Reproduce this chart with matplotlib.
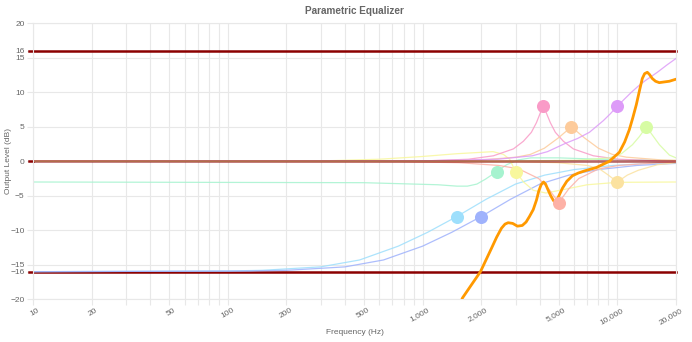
"""Parametric equalizer response chart."""

import matplotlib

matplotlib.use("Agg")
import matplotlib.pyplot as plt
from matplotlib.ticker import FixedLocator, NullFormatter
from matplotlib.transforms import ScaledTranslation

# band filters: frequency (Hz) / gain (dB) points
LIGHT_BLUE_F = [10, 100, 150, 300, 475, 750, 1060, 1500, 2120, 3000, 4240, 6000, 9500, 15000, 20000]
LIGHT_BLUE_DB = [-16, -15.9, -15.8, -15.3, -14.3, -12.3, -10.3, -8, -5.5, -3.3, -2.0, -1.2, -0.6, -0.3, -0.2]

BLUE_F = [10, 130, 200, 400, 630, 1000, 1410, 2000, 2830, 4000, 5640, 8000, 12600, 20000]
BLUE_DB = [-16, -15.9, -15.8, -15.3, -14.3, -12.3, -10.3, -8, -5.5, -3.3, -2.0, -1.2, -0.6, -0.3]

MINT_F = [10, 500, 900, 1200, 1500, 1700, 1900, 2100, 2400, 2700, 3100, 3600, 5000, 8000, 20000]
MINT_DB = [-3.0, -3.1, -3.3, -3.4, -3.6, -3.6, -3.3, -2.6, -1.5, -0.5, 0.2, 0.5, 0.5, 0.3, 0.1]

YELLOW_F = [10, 300, 600, 1000, 1500, 2000, 2300, 2600, 2800, 3000, 3300, 3700, 4300, 5500, 7000, 10000, 20000]
YELLOW_DB = [0, 0.05, 0.3, 0.7, 1.1, 1.3, 1.4, 1.0, 0.3, -1.5, -3.0, -4.2, -4.6, -4.0, -3.4, -3.05, -3.0]

PINK_F = [10, 1012, 1719, 2312, 2927, 3291, 3619, 3842, 4020, 4170, 4320, 4528, 4804, 5284, 5940,
          7525, 10110, 17190, 20000]
PINK_DB = [0, 0.05, 0.3, 0.8, 1.8, 2.9, 4.2, 5.6, 7.0, 8.0, 7.0, 5.6, 4.2, 2.9, 1.8,
           0.8, 0.3, 0.05, 0.05]

PEACH_F = [10, 988, 2007, 3033, 3579, 4222, 4982, 5808, 6770, 7990, 9425, 11120, 16810, 20000]
PEACH_DB = [0, 0.02, 0.2, 0.6, 1.0, 1.9, 3.4, 5.0, 3.4, 1.9, 1.0, 0.6, 0.2, 0.15]

SALMON_F = [10, 757, 1535, 2462, 3118, 3945, 4443, 5000, 5626, 6336, 8020, 10150, 16290, 20000]
SALMON_DB = [0, -0.05, -0.2, -0.6, -1.1, -2.5, -4.0, -6.0, -4.0, -2.5, -1.1, -0.6, -0.2, -0.15]

PURPLE_F = [10, 943, 2427, 3662, 4380, 5412, 6240, 7186, 8478, 9210, 10000, 10860, 11800, 12810,
            13920, 16040, 18040, 20000]
PURPLE_DB = [0, 0.05, 0.3, 0.8, 1.4, 2.6, 3.3, 4.2, 5.9, 6.9, 8.0, 9.0, 10.0, 10.9,
             11.7, 12.9, 14.0, 14.9]

LIGHT_ORANGE_F = [10, 3070, 4925, 7020, 8090, 8890, 10000, 11250, 12810, 16040, 20000]
LIGHT_ORANGE_DB = [0, -0.05, -0.2, -0.6, -1.1, -1.9, -3.0, -2.0, -1.3, -0.5, -0.2]

LIME_F = [10, 2400, 6180, 9110, 10490, 11950, 12990, 14100, 15310, 16440, 18500, 20000]
LIME_DB = [0, 0.02, 0.15, 0.5, 1.1, 2.4, 3.6, 5.0, 3.6, 2.4, 0.9, 0.5]

# combined response
TOTAL_F = [1560, 1603, 1782, 1982, 2259, 2400, 2541, 2650, 2750, 2900, 3069, 3250, 3400, 3538,
           3700, 3846, 3950, 4060, 4178, 4280, 4400, 4550, 4700, 4808, 4900, 5050, 5224, 5500,
           5877, 6300, 6771, 7805, 9095, 10233, 10900, 11525, 12000, 12510, 13000, 13430, 13800,
           14250, 14600, 15110, 15700, 16410, 17400, 18480, 20000]
TOTAL_DB = [-20.6, -19.8, -17.9, -16.0, -12.6, -11.0, -9.7, -9.1, -8.9, -9.0, -9.4, -9.3, -8.8, -8.0,
            -7.0, -5.6, -4.3, -3.4, -3.0, -3.3, -4.1, -5.0, -5.7, -5.9, -5.6, -4.8, -3.9, -2.9,
            -2.1, -1.7, -1.4, -0.9, 0.0, 1.3, 2.8, 4.6, 6.3, 8.2, 10.3, 12.0, 12.7,
            12.9, 12.6, 12.0, 11.6, 11.4, 11.5, 11.6, 11.9]

# band handles (center frequency, gain)
HANDLE_F = [1500, 2000, 2400, 3000, 4170, 5808, 5000, 10000, 10000, 14100]
HANDLE_DB = [-8, -8, -1.5, -1.5, 8, 5, -6, 8, -3, 5]

BANDS = [
    (LIGHT_BLUE_F, LIGHT_BLUE_DB, "#9edffc"),
    (BLUE_F, BLUE_DB, "#9fb2fc"),
    (MINT_F, MINT_DB, "#a6f3cf"),
    (YELLOW_F, YELLOW_DB, "#f8f79c"),
    (PINK_F, PINK_DB, "#f99bc7"),
    (PEACH_F, PEACH_DB, "#fdcb9b"),
    (SALMON_F, SALMON_DB, "#fdb1a6"),
    (PURPLE_F, PURPLE_DB, "#dd9bf8"),
    (LIGHT_ORANGE_F, LIGHT_ORANGE_DB, "#fbe2a0"),
    (LIME_F, LIME_DB, "#d7fca4"),
]

X_MAJOR = [10, 20, 50, 100, 200, 500, 1000, 2000, 5000, 10000, 20000]
X_MINOR = [30, 40, 60, 70, 80, 90, 300, 400, 600, 700, 800, 900,
           3000, 4000, 6000, 7000, 8000, 9000]
Y_TICKS = [-20, -16, -15, -10, -5, 0, 5, 10, 15, 16, 20]
LIMIT_LEVELS = [-16, 16]

GRID = "#e8e8e8"
LIMIT = "#8b0000"
TEXT = "#666666"

plt.rcParams["font.family"] = ["Liberation Sans", "DejaVu Sans"]

fig = plt.figure(figsize=(6.92, 3.42), dpi=100)
ax = fig.add_axes([33 / 692, 1 - 299.3 / 342, 643 / 692, 276 / 342])

ax.set_xscale("log")
ax.set_xlim(10, 20000)
ax.set_ylim(-20, 20)

ax.xaxis.set_major_locator(FixedLocator(X_MAJOR))
ax.xaxis.set_minor_locator(FixedLocator(X_MINOR))
ax.xaxis.set_minor_formatter(NullFormatter())
ax.set_xticks(X_MAJOR, [f"{v:,}" for v in X_MAJOR])
ax.set_yticks(Y_TICKS)

ax.grid(True, which="both", color=GRID, linewidth=0.8)
ax.tick_params(axis="both", which="both", length=4, width=0.8, color=GRID,
               labelsize=6, labelcolor=TEXT, pad=2)
for spine in ax.spines.values():
    spine.set_color(GRID)
    spine.set_linewidth(0.8)

# limit lines in dark red, above the grid, reaching into the tick area
for level in LIMIT_LEVELS:
    ax.axhline(level, xmin=-4 / 643, xmax=1, color=LIMIT, linewidth=1.8,
               zorder=1.8, clip_on=False)
# zero line shows through the flat band curves as a rose band
ax.axhline(0, xmin=-4 / 643, xmax=0, color=LIMIT, linewidth=1.8, clip_on=False)
ax.axhline(0, color=LIMIT, linewidth=2.0, alpha=0.55, zorder=2.5)

shift = ScaledTranslation(4 / 100, 1 / 100, fig.dpi_scale_trans)
for lbl in ax.get_xticklabels():
    lbl.set_rotation(30)
    lbl.set_ha("right")
    lbl.set_va("top")
    lbl.set_rotation_mode("anchor")
    lbl.set_transform(lbl.get_transform() + shift)

for freqs, gains, color in BANDS:
    ax.plot(freqs, gains, color=color, linewidth=0.9, alpha=0.85, zorder=2)

ax.plot(TOTAL_F, TOTAL_DB, color="#ff9900", linewidth=2.0, zorder=3,
        solid_capstyle="round", solid_joinstyle="round")

for (freqs, gains, color), hf, hd in zip(BANDS, HANDLE_F, HANDLE_DB):
    ax.plot([hf], [hd], marker="o", markersize=9.4, color=color,
            markeredgewidth=0, linestyle="none", zorder=4, clip_on=False)

ax.set_title("Parametric Equalizer", fontsize=7.2, fontweight="bold", color=TEXT, pad=7)
ax.set_xlabel("Frequency (Hz)", fontsize=6, color=TEXT, labelpad=2)
ax.set_ylabel("Output Level (dB)", fontsize=6, color=TEXT)
ax.yaxis.set_label_coords(-21 / 643, 0.5)

fig.savefig("out.png", dpi=100)
